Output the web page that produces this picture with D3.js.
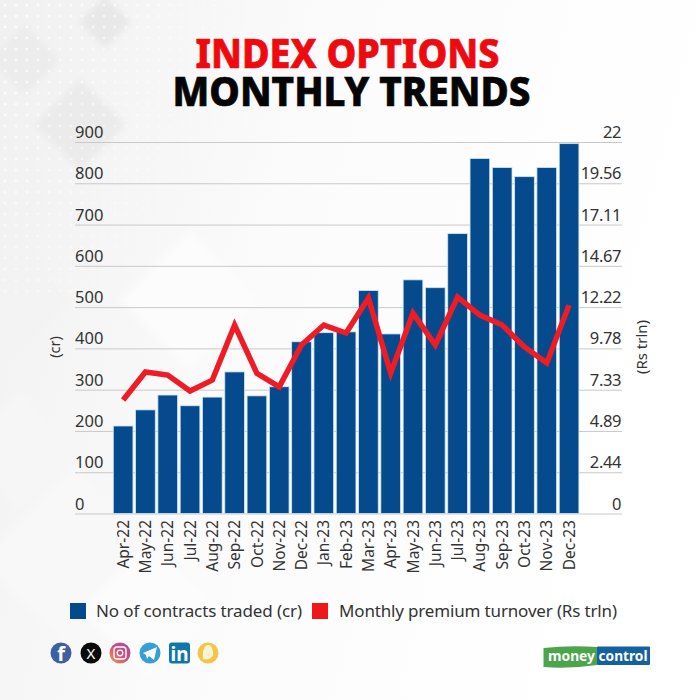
<!DOCTYPE html>
<html>
<head>
<meta charset="utf-8">
<script src="https://cdn.jsdelivr.net/npm/d3@7/dist/d3.min.js"></script>
<style>
html,body{margin:0;padding:0;background:#fff}
svg{display:block}
text{font-family:"Noto Sans",sans-serif}
</style>
</head>
<body>
<div id="chart"></div>
<script>
const months = ["Apr-22","May-22","Jun-22","Jul-22","Aug-22","Sep-22","Oct-22","Nov-22","Dec-22","Jan-23","Feb-23","Mar-23","Apr-23","May-23","Jun-23","Jul-23","Aug-23","Sep-23","Oct-23","Nov-23","Dec-23"];
const contracts = [212,251,287,261,282,343,285,307,416,438,440,540,435,566,547,678,860,838,816,838,896];
const premium = [6.72,8.38,8.2,7.25,7.9,11.16,8.3,7.5,9.98,11.16,10.69,12.76,8.32,11.87,9.98,12.82,11.75,11.16,9.86,8.91,12.34];
const leftTicks = [0,100,200,300,400,500,600,700,800,900];
const rightTicks = [0,2.44,4.89,7.33,9.78,12.22,14.67,17.11,19.56,22];
const legendLabels = ["No of contracts traded (cr)","Monthly premium turnover (Rs trln)"];
const titleLines = ["INDEX OPTIONS","MONTHLY TRENDS"];

const blue = "#044a8c", red = "#ee1c25", ink = "#333";
const svg = d3.select("#chart").append("svg").attr("width",700).attr("height",700);
const defs = svg.append("defs");

// background
const bgGrad = defs.append("linearGradient").attr("id","bg").attr("x1",0).attr("x2",1).attr("y1",0).attr("y2",0.25);
bgGrad.append("stop").attr("offset",0).attr("stop-color","#f0f0f0");
bgGrad.append("stop").attr("offset",0.45).attr("stop-color","#fbfbfb");
bgGrad.append("stop").attr("offset",1).attr("stop-color","#ffffff");
svg.append("rect").attr("width",700).attr("height",700).attr("fill","url(#bg)");
defs.append("filter").attr("id","soft").append("feGaussianBlur").attr("stdDeviation",3);
const pat = defs.append("pattern").attr("id","dots").attr("width",11).attr("height",11).attr("patternUnits","userSpaceOnUse");
pat.append("circle").attr("cx",5).attr("cy",5).attr("r",1.5).attr("fill","#fff").attr("opacity",.8);
const fade = defs.append("linearGradient").attr("id","fadeG").attr("x1",0).attr("x2",1).attr("y1",0).attr("y2",.5);
fade.append("stop").attr("offset",0).attr("stop-color","#fff").attr("stop-opacity",1);
fade.append("stop").attr("offset",1).attr("stop-color","#fff").attr("stop-opacity",0);
defs.append("mask").attr("id","dotMask").append("rect").attr("width",320).attr("height",300).attr("fill","url(#fadeG)");
const diamonds = [[105,22,26,"#e8e8e8"],[25,60,35,"#ececec"],[80,125,46,"#ebebeb"],[15,300,55,"#f3f3f3"],[75,560,95,"#f8f8f8"],[150,610,70,"#fcfcfc"],[190,300,70,"#fcfcfc"],[20,450,60,"#f6f6f6"]];
svg.append("g").attr("filter","url(#soft)").selectAll("path").data(diamonds).join("path")
  .attr("d",d=>`M${d[0]},${d[1]-d[2]}L${d[0]+d[2]},${d[1]}L${d[0]},${d[1]+d[2]}L${d[0]-d[2]},${d[1]}Z`)
  .attr("fill",d=>d[3]);
svg.append("rect").attr("width",320).attr("height",300).attr("fill","url(#dots)").attr("mask","url(#dotMask)");

// title
const titleG = svg.append("g").attr("text-anchor","middle").attr("font-weight",800);
titleG.append("text").text(titleLines[0]).attr("x",347.5).attr("y",68).attr("font-size",41.5).attr("fill","#ee0a0f").attr("stroke","#ee0a0f").attr("stroke-width",.7)
  .attr("textLength",304).attr("lengthAdjust","spacingAndGlyphs");
titleG.append("text").text(titleLines[1]).attr("x",351.5).attr("y",105.5).attr("font-size",41.5).attr("fill","#050505").attr("stroke","#050505").attr("stroke-width",.7)
  .attr("textLength",358).attr("lengthAdjust","spacingAndGlyphs");

// scales
const y0 = 513.5, y1 = 142;
const x = d3.scaleBand().domain(months).range([113.3,578.9]).paddingInner(0.118).paddingOuter(0);
const yL = d3.scaleLinear().domain([0,900]).range([y0,y1]);
const yR = d3.scaleLinear().domain([0,22]).range([y0,y1]);

// grid (left axis)
const gridG = svg.append("g").attr("transform","translate(75,0)")
  .call(d3.axisRight(yL).tickValues(leftTicks).tickSize(547).tickFormat(d=>d));
gridG.select(".domain").remove();
gridG.selectAll("line").attr("stroke","#c9c9c9").attr("stroke-width",1);
gridG.selectAll("text").attr("x",0).attr("dy",0).attr("y",-4.5).attr("text-anchor","start")
  .attr("font-size",16.5).attr("fill",ink).style("font-family",'"Noto Sans",sans-serif');

// right axis
const rightG = svg.append("g").attr("transform","translate(621,0)")
  .call(d3.axisLeft(yR).tickValues(rightTicks).tickSize(0).tickFormat(d=>String(d)));
rightG.select(".domain").remove();
rightG.selectAll("text").attr("x",0).attr("dy",0).attr("y",-4.5).attr("text-anchor","end")
  .attr("font-size",16.5).attr("fill",ink).style("letter-spacing","-0.4px").style("font-family",'"Noto Sans",sans-serif');

// bars
svg.append("g").selectAll("rect").data(months).join("rect")
  .attr("x",d=>x(d)).attr("width",x.bandwidth())
  .attr("y",(d,i)=>yL(contracts[i])).attr("height",(d,i)=>y0-yL(contracts[i]))
  .attr("fill",blue).attr("stroke","#cfe4f1").attr("stroke-width",.8);

// line
const line = d3.line().x((d,i)=>x(months[i])+x.bandwidth()/2).y(d=>yR(d));
svg.append("path").datum(premium).attr("d",line).attr("fill","none")
  .attr("stroke",red).attr("stroke-width",5.5).attr("stroke-linejoin","miter");

// x axis
const xG = svg.append("g").attr("transform",`translate(0,${y0})`)
  .call(d3.axisBottom(x).tickSize(0));
xG.select(".domain").remove();
xG.selectAll("text").attr("transform","translate(0,6.5) rotate(-90)")
  .attr("x",0).attr("y",0).attr("dy","0.36em").attr("text-anchor","end")
  .attr("font-size",15.5).attr("fill",ink).style("font-family",'"Noto Sans",sans-serif');

// axis titles
svg.append("text").text("(cr)").attr("transform","translate(60,347) rotate(-90)").attr("text-anchor","middle").attr("font-size",14.5).attr("fill",ink);
svg.append("text").text("(Rs trln)").attr("transform","translate(647,347) rotate(-90)").attr("text-anchor","middle").attr("font-size",15).attr("fill",ink);

// legend
const legend = svg.append("g");
const legendSpec = [[70,blue,96,206],[312,"#f0171c",339,278]];
legendSpec.forEach((s,i)=>{
  legend.append("rect").attr("x",s[0]).attr("y",603).attr("width",16).attr("height",16).attr("fill",s[1]);
  legend.append("text").text(legendLabels[i]).attr("x",s[2]).attr("y",617).attr("font-size",17).attr("fill",ink)
    .attr("textLength",s[3]).attr("lengthAdjust","spacing");
});

// social icons
const ig = defs.append("linearGradient").attr("id","ig").attr("x1",0).attr("x2",1).attr("y1",1).attr("y2",0);
ig.append("stop").attr("offset",0).attr("stop-color","#e8a24a");
ig.append("stop").attr("offset",.5).attr("stop-color","#cf4f80");
ig.append("stop").attr("offset",1).attr("stop-color","#9b4fa8");
const ic = svg.append("g").attr("text-anchor","middle");
const iconY = 653;
ic.append("circle").attr("cx",61).attr("cy",iconY).attr("r",10.5).attr("fill","#3f5fa3");
ic.append("text").text("f").attr("x",61).attr("y",iconY+7.5).attr("font-size",20).attr("font-weight",700).attr("fill","#fff");
ic.append("circle").attr("cx",91).attr("cy",iconY).attr("r",10.5).attr("fill","#0a0a0a");
ic.append("text").text("X").attr("x",91).attr("y",iconY+5.5).attr("font-size",15).attr("fill","#fff");
ic.append("circle").attr("cx",120).attr("cy",iconY).attr("r",10.5).attr("fill","url(#ig)");
ic.append("rect").attr("x",114).attr("y",iconY-6).attr("width",12).attr("height",12).attr("rx",3.2).attr("fill","none").attr("stroke","#fff").attr("stroke-width",1.4);
ic.append("circle").attr("cx",120).attr("cy",iconY).attr("r",2.8).attr("fill","none").attr("stroke","#fff").attr("stroke-width",1.3);
ic.append("circle").attr("cx",150).attr("cy",iconY).attr("r",10.5).attr("fill","#34a0d8");
ic.append("path").attr("d",`M143,${iconY}L157,${iconY-6}L154,${iconY+7}L149,${iconY+3}L147,${iconY+6}L146,${iconY+2}Z`).attr("fill","#fff");
ic.append("rect").attr("x",169).attr("y",iconY-10.5).attr("width",21).attr("height",21).attr("rx",3).attr("fill","#0f78a8");
ic.append("text").text("in").attr("x",179.5).attr("y",iconY+7.5).attr("font-size",19).attr("font-weight",700).attr("fill","#fff");
ic.append("circle").attr("cx",208).attr("cy",iconY).attr("r",10.5).attr("fill","#f1c64a");
ic.append("path").attr("d",`M203,${iconY+6}C202,${iconY-3} 205,${iconY-8} 208,${iconY-8}C212,${iconY-8} 213,${iconY-3} 213,${iconY+1}C213,${iconY+5} 208,${iconY+7} 203,${iconY+6}Z`).attr("fill","#fbf3d5");

// logo
svg.append("path").attr("d","M543.5,648Q570,645 597,647L597,665Q570,669 543.5,667Z").attr("fill","#4ca54a");
svg.append("rect").attr("x",597).attr("y",646.5).attr("width",53).attr("height",18.5).attr("rx",1).attr("fill","#14619f");
svg.append("text").text("money").attr("x",548).attr("y",661).attr("font-size",13.5).attr("font-weight",700).attr("fill","#fff").attr("textLength",47).attr("lengthAdjust","spacingAndGlyphs");
svg.append("text").text("control").attr("x",598.5).attr("y",661).attr("font-size",13.5).attr("font-weight",700).attr("fill","#fff").attr("textLength",49).attr("lengthAdjust","spacingAndGlyphs");
</script>
</body>
</html>
